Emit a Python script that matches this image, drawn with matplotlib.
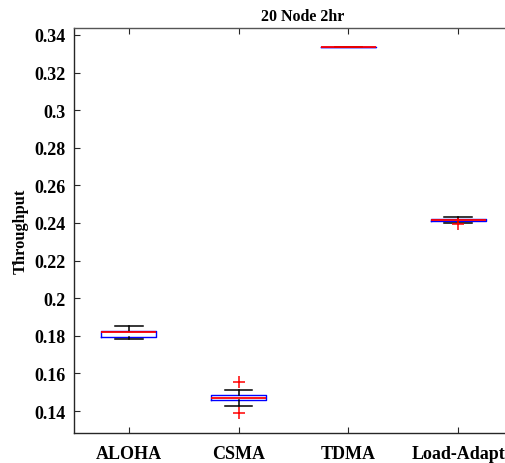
import matplotlib
matplotlib.use("Agg")
import matplotlib.pyplot as plt

categories = ["ALOHA", "CSMA", "TDMA", "Load-Adapt"]
whisk_lo = [0.1783, 0.1425, 0.3335, 0.2402]
q1 = [0.1795, 0.1456, 0.3335, 0.2412]
median = [0.1820, 0.1471, 0.3335, 0.2416]
q3 = [0.1827, 0.1485, 0.3335, 0.2420]
whisk_hi = [0.1854, 0.1513, 0.3335, 0.2433]
outliers = [[], [0.1552, 0.1388], [], [0.2392]]
yticks = [0.14, 0.16, 0.18, 0.2, 0.22, 0.24, 0.26, 0.28, 0.3, 0.32, 0.34]
ytick_labels = ["0.14", "0.16", "0.18", "0.2", "0.22", "0.24", "0.26", "0.28", "0.3", "0.32", "0.34"]

plt.rcParams['font.family'] = ['Liberation Serif', 'DejaVu Serif']
plt.rcParams['font.weight'] = 'bold'

fig = plt.figure(figsize=(5.05, 4.64), dpi=100)
W, H = 505, 464
ax = fig.add_axes([74 / W, 1 - 434 / H, (513 - 74) / W, (434 - 29) / H])

stats = []
for i, c in enumerate(categories):
    stats.append(dict(label=c, whislo=whisk_lo[i], q1=q1[i], med=median[i],
                      q3=q3[i], whishi=whisk_hi[i], fliers=outliers[i]))

ax.bxp(stats, positions=range(1, len(categories) + 1), widths=0.5,
       boxprops=dict(color='#0000ff', linewidth=1.0),
       medianprops=dict(color='#ff0000', linewidth=1.3),
       whiskerprops=dict(color='black', linewidth=1.1),
       capprops=dict(color='black', linewidth=1.1),
       capwidths=0.25,
       flierprops=dict(marker='+', markeredgecolor='#ff0000', markersize=9,
                       markeredgewidth=1.1, linestyle='none'))

ax.set_xlim(0.5, 4.5)
ax.set_ylim(0.1283, 0.3437)
ax.set_yticks(yticks)
ax.set_yticklabels(ytick_labels)
ax.set_xticks(range(1, len(categories) + 1))
ax.set_xticklabels(categories)
for sp in ax.spines.values():
    sp.set_color('#262626')
    sp.set_linewidth(1.0)
ax.spines['top'].set_color('#555555')
ax.tick_params(direction='in', length=4, width=0.8, color='#262626',
               top=True, right=True, labelsize=13)
ax.tick_params(axis='y', pad=6)
ax.tick_params(axis='x', pad=9)
ax.set_ylabel("Throughput", fontsize=11.8, fontweight='bold', labelpad=4)
ax.set_title("20 Node 2hr", fontsize=11.5, fontweight='bold', pad=6,
             x=(303 - 74) / (513 - 74))

fig.savefig("out.png", dpi=100)
